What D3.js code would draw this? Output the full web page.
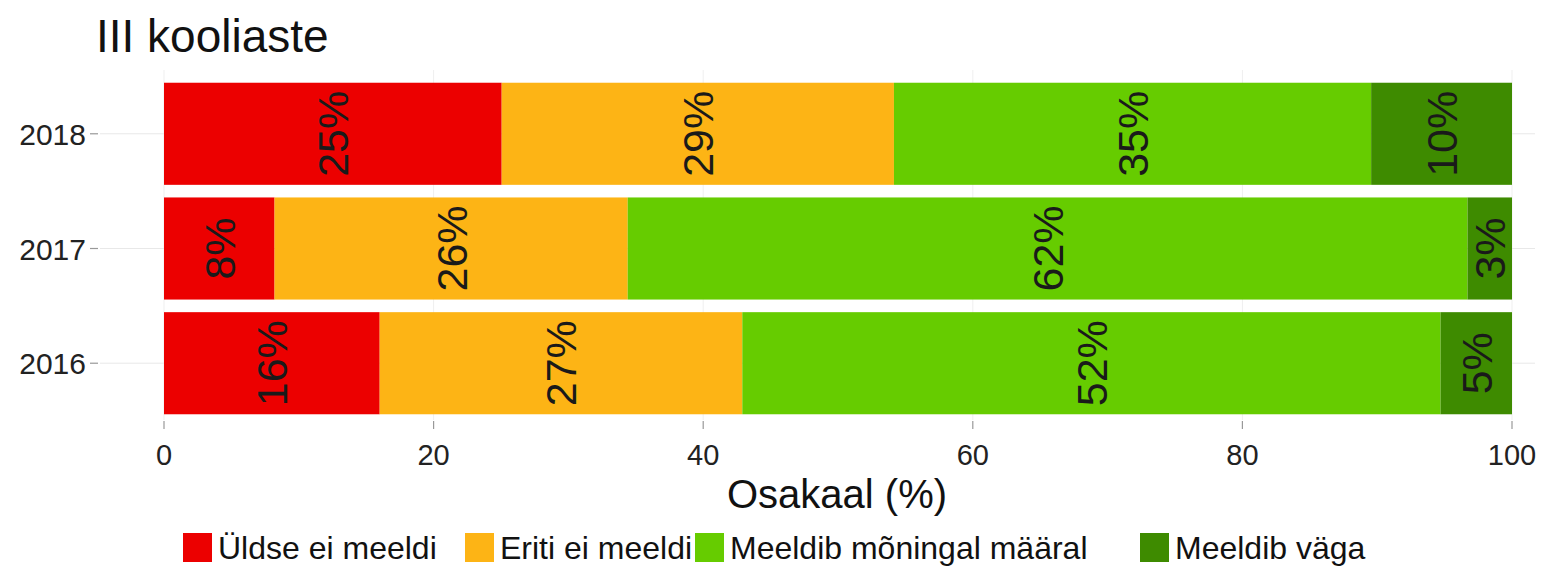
<!DOCTYPE html>
<html>
<head>
<meta charset="utf-8">
<script src="https://cdn.jsdelivr.net/npm/d3@7"></script>
<style>
  html, body { margin: 0; padding: 0; background: #fff; }
  svg { display: block; font-family: "Liberation Sans", Arial, sans-serif; }
</style>
</head>
<body>
<svg id="chart" width="1545" height="567"></svg>
<script>
// Survey shares by year (percent), stacked left to right
const years = ["2018", "2017", "2016"];
const categories = ["Üldse ei meeldi", "Eriti ei meeldi", "Meeldib mõningal määral", "Meeldib väga"];
const uldseEiMeeldi = [25.05, 8.2, 16.0];
const eritiEiMeeldi = [29.1, 26.2, 26.9];
const meeldibMoningal = [35.4, 62.3, 51.8];
const meeldibVaga = [10.45, 3.3, 5.3];
const xTicks = [0, 20, 40, 60, 80, 100];
const colors = ["#EC0000", "#FDB415", "#66CC00", "#3E8B00"];

const seriesValues = [uldseEiMeeldi, eritiEiMeeldi, meeldibMoningal, meeldibVaga];
const rows = years.map((y, i) => {
  const r = { year: y };
  categories.forEach((c, k) => { r[c] = seriesValues[k][i]; });
  return r;
});

const svg = d3.select("#chart");
const panel = { left: 100, right: 1535, top: 70, bottom: 420 };

const x = d3.scaleLinear().domain([0, 100]).range([164, 1512]);
const y = d3.scaleBand().domain(years).range([77, 420]).paddingInner(0.11).paddingOuter(0.05);

// faint grid
const g = svg.append("g");
g.selectAll("line.vg").data(xTicks).join("line")
  .attr("x1", d => x(d)).attr("x2", d => x(d))
  .attr("y1", panel.top).attr("y2", panel.bottom)
  .attr("stroke", "#efefef").attr("stroke-width", 1);
g.selectAll("line.hg").data(years).join("line")
  .attr("x1", panel.left).attr("x2", panel.right)
  .attr("y1", d => y(d) + y.bandwidth() / 2).attr("y2", d => y(d) + y.bandwidth() / 2)
  .attr("stroke", "#e8e8e8").attr("stroke-width", 1);

// stacked bars
const stack = d3.stack().keys(categories)(rows);
const layers = svg.append("g").selectAll("g").data(stack).join("g")
  .attr("fill", (d, i) => colors[i]);
layers.selectAll("rect").data(d => d).join("rect")
  .attr("x", d => x(d[0]))
  .attr("width", d => x(d[1]) - x(d[0]))
  .attr("y", d => y(d.data.year))
  .attr("height", y.bandwidth());

// rotated value labels
const labelSize = 43;
const labels = svg.append("g");
stack.forEach(layer => {
  layer.forEach(d => {
    const cx = (x(d[0]) + x(d[1])) / 2;
    const cy = y(d.data.year) + y.bandwidth() / 2;
    labels.append("text")
      .attr("transform", `translate(${cx + labelSize * 0.36},${cy}) rotate(-90)`)
      .attr("text-anchor", "middle")
      .attr("font-size", labelSize)
      .attr("fill", "#1a1a1a")
      .text(Math.round(d[1] - d[0]) + "%");
  });
});

// y axis
const yAxis = svg.append("g");
years.forEach(yr => {
  const cy = y(yr) + y.bandwidth() / 2;
  yAxis.append("line").attr("x1", 90).attr("x2", 98).attr("y1", cy).attr("y2", cy)
    .attr("stroke", "#999").attr("stroke-width", 1.2);
  yAxis.append("text").attr("x", 86).attr("y", cy + 11).attr("text-anchor", "end")
    .attr("font-size", 30).attr("fill", "#222").text(yr);
});

// x axis
const xAxis = svg.append("g");
xTicks.forEach(t => {
  xAxis.append("line").attr("x1", x(t)).attr("x2", x(t)).attr("y1", 421).attr("y2", 429)
    .attr("stroke", "#999").attr("stroke-width", 1.2);
  xAxis.append("text").attr("x", x(t)).attr("y", 465).attr("text-anchor", "middle")
    .attr("font-size", 29).attr("fill", "#222").text(t);
});
svg.append("text").attr("x", 837).attr("y", 508).attr("text-anchor", "middle")
  .attr("font-size", 40).attr("fill", "#111").text("Osakaal (%)");

// title
svg.append("text").attr("x", 96).attr("y", 52).attr("font-size", 46).attr("fill", "#111")
  .text("III kooliaste");

// legend
const legendX = [183, 465, 695, 1140];
const legend = svg.append("g");
categories.forEach((c, i) => {
  legend.append("rect").attr("x", legendX[i]).attr("y", 533).attr("width", 29).attr("height", 29)
    .attr("fill", colors[i]);
  legend.append("text").attr("x", legendX[i] + 35).attr("y", 559)
    .attr("font-size", 32).attr("fill", "#111").text(c);
});
</script>
</body>
</html>
